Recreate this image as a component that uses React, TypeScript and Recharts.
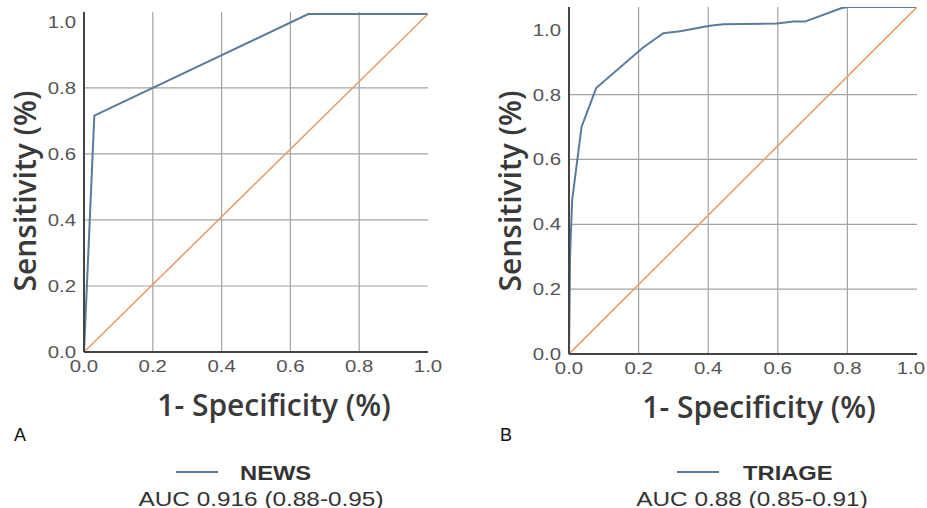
import React from 'react';
import { LineChart, Line, XAxis, YAxis, CartesianGrid } from 'recharts';

// ROC points (x = 1 - specificity, y = sensitivity)
const newsFpr = [0, 0.03, 0.652, 1.0];
const newsTpr = [0, 0.716, 1.024, 1.024];

const triageFpr = [0, 0.003, 0.009, 0.036, 0.078, 0.213, 0.271, 0.319, 0.405, 0.443, 0.597, 0.645, 0.678, 0.784, 0.803, 1.0];
const triageTpr = [0, 0.3, 0.474, 0.7, 0.82, 0.945, 0.989, 0.995, 1.012, 1.017, 1.019, 1.025, 1.025, 1.067, 1.07, 1.07];

// chance diagonal (the drawing stretches it slightly past 1.0)
const refNewsX = [0, 1.0];
const refNewsY = [0, 1.024];
const refTriageX = [0, 1.0];
const refTriageY = [0, 1.07];

const axisTicks = [0, 0.2, 0.4, 0.6, 0.8, 1.0];
const gridValues = [0.2, 0.4, 0.6, 0.8];

const panels = [
  { letter: 'A', name: 'NEWS', auc: 'AUC 0.916 (0.88-0.95)', fpr: newsFpr, tpr: newsTpr, refX: refNewsX, refY: refNewsY, yMax: 1.03 },
  { letter: 'B', name: 'TRIAGE', auc: 'AUC 0.88 (0.85-0.91)', fpr: triageFpr, tpr: triageTpr, refX: refTriageX, refY: refTriageY, yMax: 1.07 },
];

const BLUE = '#5b7a9c';
const ORANGE = '#e5a070';
const GRID = '#a4a4a4';
const AXIS = '#444';

const toPoints = (xs: number[], ys: number[]) => xs.map((x, i) => ({ x, y: ys[i] }));

const StretchTick = (props: any) => {
  const { x, y, payload, textAnchor, verticalAnchor, edge } = props;
  const dy = verticalAnchor === 'start' ? '0.71em' : '0.355em';
  // last x label of the right panel sits against the page edge
  const atEdge = edge && payload.value === 1;
  const tx = atEdge ? x + 8 : x;
  return (
    <text
      x={tx}
      y={y}
      dy={dy}
      textAnchor={atEdge ? 'end' : textAnchor}
      fill="#555"
      fontSize={17}
      fontFamily="'Liberation Sans', Arial, sans-serif"
      transform={`translate(${tx},${y}) scale(1.2,1) translate(${-tx},${-y})`}
    >
      {Number(payload.value).toFixed(1)}
    </text>
  );
};

const titleStyle: React.CSSProperties = {
  position: 'absolute',
  fontFamily: "'Open Sans', sans-serif",
  fontWeight: 600,
  fontSize: 30,
  color: '#3a3a3a',
  whiteSpace: 'nowrap',
  lineHeight: 1,
};

const Panel = ({ p, left, top, width, height, marginLeft, marginRight, marginTop, yTitle, xTitle, legend, edge }: any) => (
  <>
    <div style={{ position: 'absolute', left, top }}>
      <LineChart width={width} height={height} margin={{ top: marginTop, right: marginRight, bottom: 0, left: 0 }}>
        <CartesianGrid stroke={GRID} strokeWidth={1.2} horizontalValues={gridValues} verticalValues={gridValues} />
        <XAxis
          type="number"
          dataKey="x"
          domain={[0, 1]}
          ticks={axisTicks}
          allowDataOverflow
          height={30}
          tickLine={false}
          axisLine={{ stroke: AXIS, strokeWidth: 2 }}
          tick={<StretchTick edge={edge} />}
        />
        <YAxis
          type="number"
          dataKey="y"
          domain={[0, p.yMax]}
          ticks={axisTicks}
          allowDataOverflow
          width={marginLeft}
          tickLine={false}
          axisLine={{ stroke: AXIS, strokeWidth: 2 }}
          tick={<StretchTick />}
        />
        <Line
          data={toPoints(p.fpr, p.tpr)}
          dataKey="y"
          name={p.name}
          type="linear"
          stroke={BLUE}
          strokeWidth={2}
          dot={false}
          isAnimationActive={false}
        />
        <Line
          data={toPoints(p.refX, p.refY)}
          dataKey="y"
          name="reference"
          type="linear"
          stroke={ORANGE}
          strokeWidth={1.6}
          dot={false}
          legendType="none"
          isAnimationActive={false}
        />
      </LineChart>
    </div>
    <div style={{ ...titleStyle, left: yTitle.x, top: yTitle.y, transform: 'translate(-50%, -50%) rotate(-90deg)' }}>
      Sensitivity (%)
    </div>
    <div style={{ ...titleStyle, left: xTitle.x, top: xTitle.y, transform: 'translate(-50%, -50%)' }}>
      1- Specificity (%)
    </div>
    <div
      style={{
        position: 'absolute',
        left: legend.letterX,
        top: 435,
        transform: 'translateY(-50%)',
        fontSize: 18,
        color: '#111',
        lineHeight: 1,
      }}
    >
      {p.letter}
    </div>
    <div style={{ position: 'absolute', left: legend.lineX, top: 471, width: 42, height: 2, background: BLUE }} />
    <div
      style={{
        position: 'absolute',
        left: legend.nameX,
        top: 472,
        transform: 'translateY(-50%) scaleX(1.13)',
        transformOrigin: 'left center',
        fontWeight: 700,
        fontSize: 21,
        color: '#333',
        lineHeight: 1,
      }}
    >
      {p.name}
    </div>
    <div
      style={{
        position: 'absolute',
        left: legend.aucX,
        top: 498,
        transform: 'translate(-50%, -50%) scaleX(1.16)',
        fontSize: 21,
        color: '#333',
        lineHeight: 1,
        whiteSpace: 'nowrap',
      }}
    >
      {p.auc}
    </div>
  </>
);

export default function App() {
  return (
    <div
      style={{
        position: 'absolute',
        left: 0,
        top: 0,
        width: 927,
        height: 508,
        background: '#fff',
        overflow: 'hidden',
        fontFamily: "'Liberation Sans', Arial, sans-serif",
      }}
    >
      <Panel
        p={panels[0]}
        left={0}
        top={0}
        width={460}
        height={382}
        marginLeft={84}
        marginRight={32}
        marginTop={12}
        yTitle={{ x: 25, y: 191 }}
        xTitle={{ x: 274, y: 405 }}
        legend={{ letterX: 14, lineX: 176, nameX: 240, aucX: 261 }}
      />
      <Panel
        p={panels[1]}
        left={470}
        top={0}
        width={460}
        height={384}
        marginLeft={99}
        marginRight={13}
        marginTop={7}
        yTitle={{ x: 510, y: 191 }}
        xTitle={{ x: 759, y: 407 }}
        legend={{ letterX: 500, lineX: 677, nameX: 743, aucX: 752 }}
        edge
      />
    </div>
  );
}
